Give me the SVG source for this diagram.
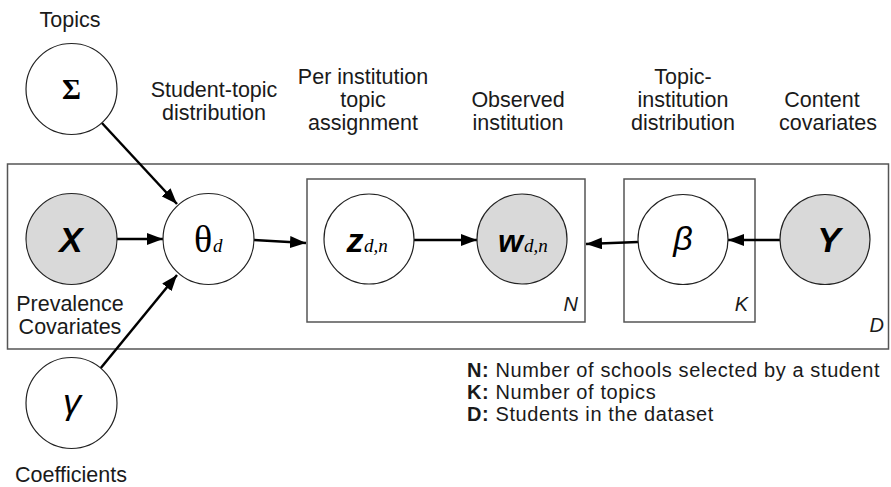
<svg xmlns="http://www.w3.org/2000/svg" width="891" height="487" viewBox="0 0 891 487">
<defs>
<marker id="ah" markerUnits="userSpaceOnUse" markerWidth="16" markerHeight="12" refX="16" refY="6" orient="auto">
<path d="M0,0 L16,6 L0,12 z" fill="#000"/>
</marker>
<style>
.lbl{font-family:"Liberation Sans",Arial,sans-serif;font-size:21.5px;fill:#1a1a1a;text-anchor:middle}
.leg{font-family:"Liberation Sans",Arial,sans-serif;font-size:20px;letter-spacing:0.6px;fill:#1a1a1a}
.node{stroke:#222;stroke-width:1.2;fill:#fff}
.obs{fill:#d9d9d9}
.plate{fill:none;stroke:#555;stroke-width:1.5}
.edge{stroke:#000;stroke-width:2.5;fill:none;marker-end:url(#ah)}
.sym{font-family:"Liberation Sans",Arial,sans-serif;font-style:italic;fill:#000;text-anchor:middle}
.sub{font-family:"Liberation Serif","Times New Roman",serif;font-style:italic;font-size:19px;fill:#000}
.pl{font-family:"Liberation Sans",Arial,sans-serif;font-style:italic;font-size:20px;fill:#1a1a1a;text-anchor:end}
</style>
</defs>
<rect width="891" height="487" fill="#fff"/>
<g id="plates">
<rect id="plate-D" class="plate" x="7.5" y="164" width="881" height="185"/>
<rect id="plate-N" class="plate" x="307" y="179" width="278" height="143"/>
<rect id="plate-K" class="plate" x="624" y="179" width="131" height="143"/>
<text class="pl" x="578" y="311">N</text>
<text class="pl" x="748" y="311">K</text>
<text class="pl" x="884" y="332">D</text>
</g>
<g id="connectors">
<line class="edge" x1="101" y1="122" x2="177" y2="204"/>
<line class="edge" x1="100" y1="369" x2="177" y2="275"/>
<line class="edge" x1="117" y1="239" x2="163" y2="239"/>
<line class="edge" x1="254" y1="240" x2="306" y2="243"/>
<line class="edge" x1="414" y1="240" x2="477" y2="240"/>
<line class="edge" x1="638" y1="242" x2="586" y2="244"/>
<line class="edge" x1="780" y1="240" x2="728" y2="240"/>
</g>
<g id="node-sigma">
<circle class="node" cx="71.5" cy="89" r="45.5"/>
<text x="71.5" y="99" text-anchor="middle" font-family="Liberation Serif,'Times New Roman',serif" font-weight="bold" font-size="29" fill="#000">Σ</text>
<text class="lbl" x="70" y="27">Topics</text>
</g>
<g id="node-x">
<circle class="node obs" cx="71.5" cy="239" r="45.5"/>
<text class="sym" x="71" y="252" font-size="35" font-weight="bold">X</text>
<text class="lbl" x="70" y="311">Prevalence</text>
<text class="lbl" x="70" y="334">Covariates</text>
</g>
<g id="node-gamma">
<circle class="node" cx="71.5" cy="403" r="45.5"/>
<text class="sym" x="72" y="414" font-size="36">γ</text>
<text class="lbl" x="71" y="482">Coefficients</text>
</g>
<g id="node-theta">
<circle class="node" cx="208.5" cy="239" r="45.5"/>
<text x="203" y="252" text-anchor="middle" font-family="Liberation Serif,'Times New Roman',serif" font-size="38" fill="#000">θ</text>
<text class="sub" x="213" y="252">d</text>
<text class="lbl" x="214" y="97">Student-topic</text>
<text class="lbl" x="214" y="120">distribution</text>
</g>
<g id="node-z">
<circle class="node" cx="369" cy="239" r="45"/>
<text class="sym" x="355" y="252" font-size="34" font-weight="bold">z</text>
<text class="sub" x="364" y="252">d,n</text>
<text class="lbl" x="363" y="84">Per institution</text>
<text class="lbl" x="363" y="107">topic</text>
<text class="lbl" x="363" y="130">assignment</text>
</g>
<g id="node-w">
<circle class="node obs" cx="522" cy="239" r="45"/>
<text class="sym" x="510.5" y="252" font-size="32" font-weight="bold">w</text>
<text class="sub" x="524" y="252">d,n</text>
<text class="lbl" x="518" y="107">Observed</text>
<text class="lbl" x="518" y="130">institution</text>
</g>
<g id="node-beta">
<circle class="node" cx="683" cy="239.5" r="45"/>
<text class="sym" x="683" y="250" font-size="34">β</text>
<text class="lbl" x="683" y="84">Topic-</text>
<text class="lbl" x="683" y="107">institution</text>
<text class="lbl" x="683" y="130">distribution</text>
</g>
<g id="node-y">
<circle class="node obs" cx="825" cy="239.5" r="45"/>
<text class="sym" x="829" y="252" font-size="35" font-weight="bold">Y</text>
<text class="lbl" x="822" y="107">Content</text>
<text class="lbl" x="828" y="130">covariates</text>
</g>
<g id="legend">
<text class="leg" x="467" y="377"><tspan font-weight="bold">N:</tspan> Number of schools selected by a student</text>
<text class="leg" x="467" y="399"><tspan font-weight="bold">K:</tspan> Number of topics</text>
<text class="leg" x="467" y="421"><tspan font-weight="bold">D:</tspan> Students in the dataset</text>
</g>
</svg>
